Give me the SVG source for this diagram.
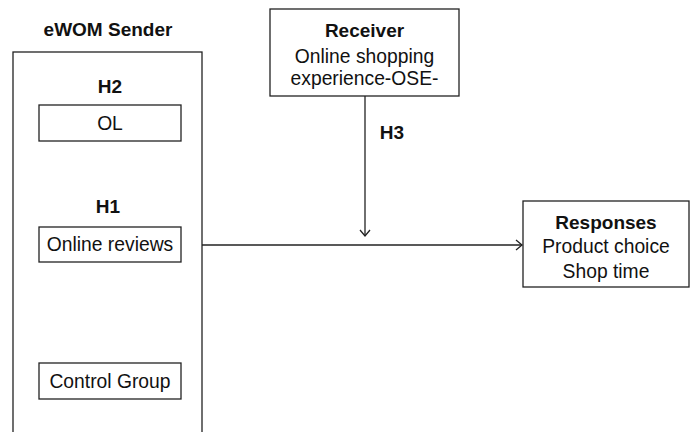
<svg xmlns="http://www.w3.org/2000/svg" width="693" height="432" viewBox="0 0 693 432">
<defs>
<style>
text{font-family:"Liberation Sans",Arial,sans-serif;font-size:19.3px;fill:#111;text-anchor:middle}
.b{font-weight:bold;font-size:19px}
.box{fill:#fff;stroke:#222;stroke-width:1.3}
.ln{fill:none;stroke:#222;stroke-width:1.3}
</style>
<marker id="ah" markerWidth="12" markerHeight="12" refX="9" refY="6" orient="auto" markerUnits="userSpaceOnUse">
<path d="M3,1 L9,6 L3,11" fill="none" stroke="#222" stroke-width="1.3"/>
</marker>
</defs>
<rect width="693" height="432" fill="#fff"/>
<g id="sender">
<text class="b" x="108" y="36">eWOM Sender</text>
<rect class="box" x="13" y="52" width="189" height="390"/>
</g>
<g id="connectors">
<line class="ln" x1="202" y1="245" x2="522" y2="245" marker-end="url(#ah)"/>
<line class="ln" x1="365" y1="96" x2="365" y2="236" marker-end="url(#ah)"/>
<text class="b" x="392" y="139">H3</text>
</g>
<g id="ol">
<text class="b" x="110" y="93">H2</text>
<rect class="box" x="39" y="105" width="142" height="36"/>
<text x="110" y="129.5">OL</text>
</g>
<g id="reviews">
<text class="b" x="108" y="213">H1</text>
<rect class="box" x="39" y="227" width="142" height="35"/>
<text x="110" y="251">Online reviews</text>
</g>
<g id="control">
<rect class="box" x="39" y="363" width="142" height="36"/>
<text x="110" y="387.5">Control Group</text>
</g>
<g id="receiver">
<rect class="box" x="270" y="9" width="189" height="87"/>
<text class="b" x="364.5" y="36.7">Receiver</text>
<text x="364.5" y="62.7">Online shopping</text>
<text x="364.5" y="84.5">experience-OSE-</text>
</g>
<g id="responses">
<rect class="box" x="523" y="201" width="166" height="86"/>
<text class="b" x="606" y="229.3">Responses</text>
<text x="606" y="253.3">Product choice</text>
<text x="606" y="278">Shop time</text>
</g>
</svg>
